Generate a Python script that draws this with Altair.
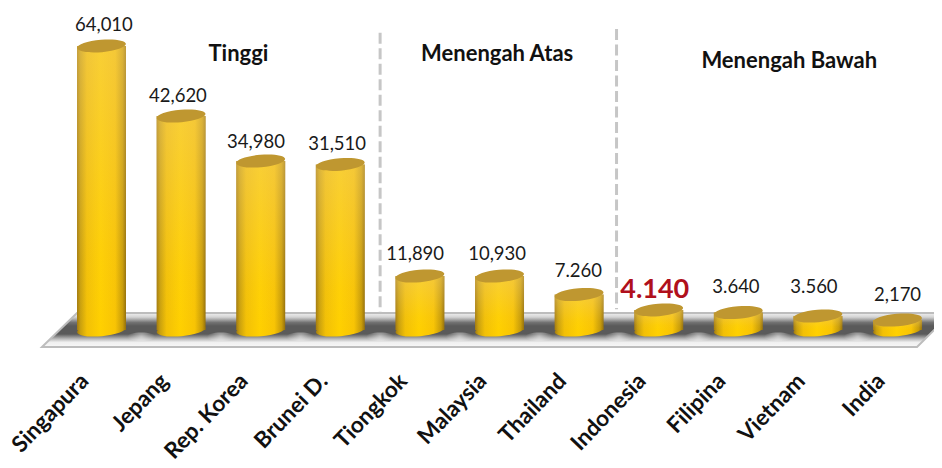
import math
import altair as alt
import pandas as pd

categories = ["Singapura", "Jepang", "Rep. Korea", "Brunei D.", "Tiongkok", "Malaysia",
              "Thailand", "Indonesia", "Filipina", "Vietnam", "India"]
positions = list(range(1, 12))
# bar heights as drawn in the picture (the source chart does not follow its labels exactly)
drawn_values = [64000, 48225, 38085, 37300, 12170, 12170, 8000, 4510, 3940, 3155, 2250]
value_labels = ["64,010", "42,620", "34,980", "31,510", "11,890", "10,930",
                "7.260", "4.140", "3.640", "3.560", "2,170"]
label_x = [1.03, 1.96, 2.94, 3.96, 4.94, 5.97, 6.99, 7.95, 8.97, 9.95, 11.0]
label_y = [68730, 52730, 42370, 41915, 17130, 17130, 13300, 9015, 9690, 9690, 7890]
highlight = [False] * 7 + [True] + [False] * 3

group_names = ["Tinggi", "Menengah Atas", "Menengah Bawah"]
group_x = [2.72, 5.97, 9.64]
group_y = [62100, 62300, 60700]

divider_x = [4.5, 7.47]
divider_top = [67000, 67800]
divider_bottom = [4000, 4700]

floor_x = [0.2525, 0.692, 11.245, 11.672]
floor_top = [-3830, 3830, 3830, 3830]
floor_bottom = [-3830, -3830, -3830, 3830]

gap_x = [1.5, 2.5, 3.5, 4.5, 5.5, 6.5, 7.5, 8.5, 9.5, 10.5]
gap_y = [-1500] * 10

X_DOMAIN = [-0.1746, 11.458]
Y_DOMAIN = [-6760, 72560]
PLOT_W, PLOT_H = 926, 352

x_scale = alt.Scale(domain=X_DOMAIN, nice=False, zero=False, padding=0)
y_scale = alt.Scale(domain=Y_DOMAIN, nice=False, zero=False, padding=0)

bars = pd.DataFrame({"pos": positions, "name": categories, "value": drawn_values, "base": [0] * 11})
labels = pd.DataFrame({"x": label_x, "y": label_y, "text": value_labels, "hi": highlight})
groups = pd.DataFrame({"x": group_x, "y": group_y, "text": group_names})
dividers = pd.DataFrame({"x": divider_x, "top": divider_top, "bottom": divider_bottom})
floor = pd.DataFrame({"x": floor_x, "top": floor_top, "bottom": floor_bottom})
gaps = pd.DataFrame({"x": gap_x, "y": gap_y})


def h_grad(stops):
    return alt.Gradient(gradient="linear", x1=0, x2=1, y1=0, y2=0,
                        stops=[alt.GradientStop(offset=o, color=c) for o, c in stops])


def v_grad(stops):
    return alt.Gradient(gradient="linear", x1=0, x2=0, y1=0, y2=1,
                        stops=[alt.GradientStop(offset=o, color=c) for o, c in stops])


def tilted_ellipse(b, deg):
    """Unit ellipse outline (semi-axes 1 and b, tilted by deg) as cubic Bezier path."""
    k = 0.5523
    t = math.radians(deg)

    def p(x, y):
        return f"{x * math.cos(t) + y * math.sin(t):.4f},{-x * math.sin(t) + y * math.cos(t):.4f}"

    return (f"M{p(-1, 0)}"
            f"C{p(-1, -k * b)} {p(-k, -b)} {p(0, -b)}"
            f"C{p(k, -b)} {p(1, -k * b)} {p(1, 0)}"
            f"C{p(1, k * b)} {p(k, b)} {p(0, b)}"
            f"C{p(-k, b)} {p(-1, k * b)} {p(-1, 0)}Z")


side = [(0, "#a27a10"), (0.07, "#c9a00e"), (0.2, "#f2c006"), (0.48, "#ffd000"),
        (0.78, "#f8c404"), (0.93, "#c89c08"), (1, "#94700c")]
ELLIPSE = tilted_ellipse(0.255, 5)
BLOB = tilted_ellipse(0.3, 0)
CYL_W = 49

name_list = "[" + ",".join(f"'{c}'" for c in categories) + "]"

floor_layer = alt.Chart(floor).mark_area(
    fill=v_grad([(0, "#f0f0f0"), (0.12, "#d4d4d4"), (0.28, "#727272"), (0.38, "#5a5a5a"),
                 (0.62, "#5a5a5a"), (0.76, "#b8b8b8"), (0.86, "#f0f0f0"), (1, "#f8f8f8")]),
    stroke="#bdbdbd", strokeWidth=2,
).encode(
    x=alt.X("x:Q", scale=x_scale,
            axis=alt.Axis(values=positions, title=None, domain=False, ticks=False, grid=False,
                          labelExpr=f"{name_list}[datum.value-1]", labelAngle=-46,
                          labelAlign="right", labelBaseline="middle", labelFont="Lato",
                          labelFontWeight="bold", labelFontSize=22.5, labelColor="#111111",
                          labelPadding=17, labelOffset=-17, labelOverlap=False,
                          labelBound=False, labelFlush=False)),
    y=alt.Y("top:Q", scale=y_scale, axis=None),
    y2="bottom:Q",
)

blob_layer = alt.Chart(gaps).mark_point(
    shape=BLOB, size=28 ** 2, filled=True, opacity=1, strokeWidth=0,
    fill=alt.RadialGradient(gradient="radial", x1=0.5, y1=0.5, x2=0.5, y2=0.5, r1=0, r2=0.5,
                            stops=[alt.GradientStop(offset=0, color="rgba(255,255,255,0.5)"),
                                   alt.GradientStop(offset=1, color="rgba(255,255,255,0)")]),
).encode(
    x=alt.X("x:Q", scale=x_scale),
    y=alt.Y("y:Q", scale=y_scale),
)

base_layer = alt.Chart(bars).mark_point(
    shape=ELLIPSE, size=CYL_W ** 2, filled=True, fill=h_grad(side), opacity=1, strokeWidth=0,
).encode(
    x=alt.X("pos:Q", scale=x_scale),
    y=alt.Y("base:Q", scale=y_scale),
)

side_layer = alt.Chart(bars).mark_bar(width=CYL_W, fill=h_grad(side)).encode(
    x=alt.X("pos:Q", scale=x_scale),
    y=alt.Y("value:Q", scale=y_scale),
    y2="base:Q",
)
sheen_layer = alt.Chart(bars).mark_bar(
    width=CYL_W,
    fill=v_grad([(0, "rgba(240,205,120,0.45)"), (0.75, "rgba(240,205,120,0.06)"), (1, "rgba(240,205,120,0)")]),
).encode(
    x=alt.X("pos:Q", scale=x_scale),
    y=alt.Y("value:Q", scale=y_scale),
    y2="base:Q",
)
top_layer = alt.Chart(bars).mark_point(
    shape=ELLIPSE, size=CYL_W ** 2, filled=True, opacity=1, strokeWidth=0, fill="#bf9730",
).encode(
    x=alt.X("pos:Q", scale=x_scale),
    y=alt.Y("value:Q", scale=y_scale),
)

divider_layer = alt.Chart(dividers).mark_rule(
    color="#c6c6c6", strokeWidth=3, strokeDash=[11, 4.5]
).encode(
    x=alt.X("x:Q", scale=x_scale),
    y=alt.Y("top:Q", scale=y_scale),
    y2="bottom:Q",
)

label_layer = alt.Chart(labels).transform_filter("!datum.hi").mark_text(
    font="Lato", fontSize=18.5, color="#1a1a1a", align="center", baseline="middle"
).encode(
    x=alt.X("x:Q", scale=x_scale),
    y=alt.Y("y:Q", scale=y_scale),
    text="text:N",
)
highlight_layer = alt.Chart(labels).transform_filter("datum.hi").mark_text(
    font="Lato", fontSize=27, fontWeight="bold", color="#b0101c", align="center", baseline="middle"
).encode(
    x=alt.X("x:Q", scale=x_scale),
    y=alt.Y("y:Q", scale=y_scale),
    text="text:N",
)
group_layer = alt.Chart(groups).mark_text(
    font="Lato", fontWeight="bold", fontSize=22, color="#111111", align="center", baseline="middle"
).encode(
    x=alt.X("x:Q", scale=x_scale),
    y=alt.Y("y:Q", scale=y_scale),
    text="text:N",
)

chart = alt.layer(
    floor_layer, blob_layer, divider_layer, base_layer, side_layer, sheen_layer, top_layer,
    label_layer, highlight_layer, group_layer
).properties(
    width=PLOT_W, height=PLOT_H,
    autosize="none",
    padding={"left": 0, "top": 0, "right": 0, "bottom": 108},
    background="white",
).configure_view(stroke=None)

chart.save("out.html", embed_options={"renderer": "svg", "actions": False})
